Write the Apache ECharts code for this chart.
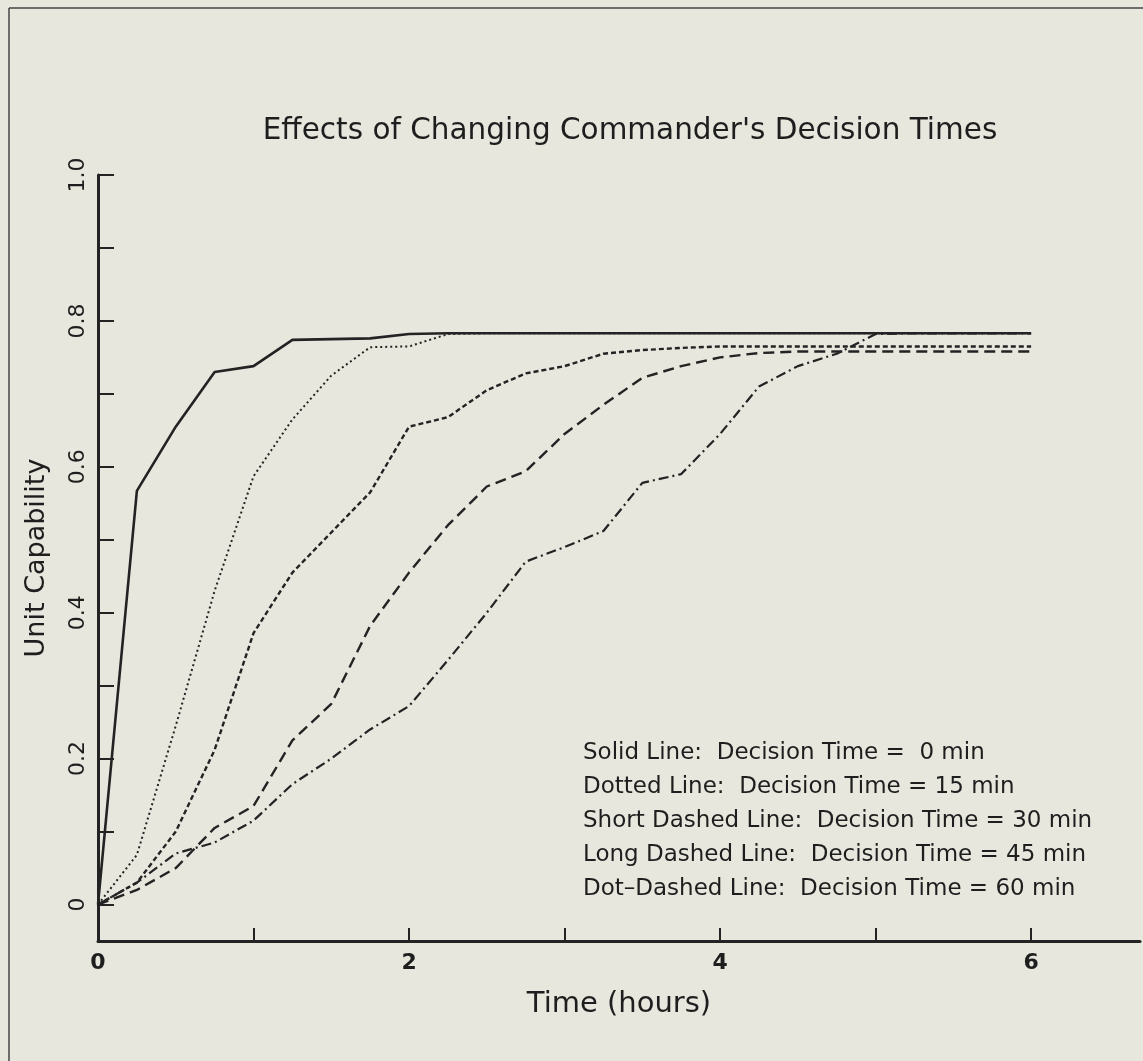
<!DOCTYPE html>
<html>
<head>
<meta charset="utf-8">
<script src="https://cdn.jsdelivr.net/npm/echarts@6/dist/echarts.min.js"></script>
<style>
html,body{margin:0;padding:0;background:#e7e7de;}
#chart{width:1143px;height:1061px;}
</style>
</head>
<body>
<div id="chart"></div>
<script>
// ---- data ----
const hours = [0, 0.25, 0.5, 0.75, 1, 1.25, 1.5, 1.75, 2, 2.25, 2.5, 2.75, 3, 3.25, 3.5, 3.75, 4, 4.25, 4.5, 4.75, 5, 5.25, 5.5, 5.75, 6];
const seriesNames = [
  'Solid Line:  Decision Time =  0 min',
  'Dotted Line:  Decision Time = 15 min',
  'Short Dashed Line:  Decision Time = 30 min',
  'Long Dashed Line:  Decision Time = 45 min',
  'Dot\u2013Dashed Line:  Decision Time = 60 min'
];
const decision0 = [0, 0.567, 0.655, 0.730, 0.738, 0.774, 0.775, 0.776, 0.782, 0.783, 0.783, 0.783, 0.783, 0.783, 0.783, 0.783, 0.783, 0.783, 0.783, 0.783, 0.783, 0.783, 0.783, 0.783, 0.783];
const decision15 = [0, 0.068, 0.245, 0.430, 0.587, 0.665, 0.725, 0.764, 0.765, 0.782, 0.783, 0.783, 0.783, 0.783, 0.783, 0.783, 0.783, 0.783, 0.783, 0.783, 0.783, 0.783, 0.783, 0.783, 0.783];
const decision30 = [0, 0.030, 0.100, 0.212, 0.372, 0.455, 0.510, 0.565, 0.655, 0.668, 0.705, 0.728, 0.738, 0.755, 0.760, 0.763, 0.765, 0.765, 0.765, 0.765, 0.765, 0.765, 0.765, 0.765, 0.765];
const decision45 = [0, 0.020, 0.050, 0.105, 0.135, 0.225, 0.275, 0.382, 0.455, 0.520, 0.573, 0.594, 0.645, 0.685, 0.722, 0.738, 0.750, 0.756, 0.758, 0.758, 0.758, 0.758, 0.758, 0.758, 0.758];
const decision60 = [0, 0.030, 0.070, 0.085, 0.115, 0.165, 0.200, 0.240, 0.272, 0.335, 0.400, 0.470, 0.490, 0.512, 0.578, 0.590, 0.645, 0.710, 0.738, 0.755, 0.782, 0.783, 0.783, 0.783, 0.783];
const xTickValues = [1, 2, 3, 4, 5, 6];
const xLabelValues = [0, 2, 4, 6];
const yTickValues = [0, 0.1, 0.2, 0.3, 0.4, 0.5, 0.6, 0.7, 0.8, 0.9, 1.0];
const yLabelValues = [0, 0.2, 0.4, 0.6, 0.8, 1.0];

const allValues = [decision0, decision15, decision30, decision45, decision60];
const dashes = ['solid', [2, 3], [5, 3], [11, 6], [10, 4, 2, 4]];
const widths = [2.6, 2, 2.4, 2.4, 2.2];
const ink = '#232323';
const FONT = 'DejaVu Sans';

const chart = echarts.init(document.getElementById('chart'), null, {renderer: 'canvas'});
const series = allValues.map((vals, i) => ({
  name: seriesNames[i],
  type: 'line',
  data: hours.map((h, j) => [h, vals[j]]),
  showSymbol: false,
  symbol: 'none',
  silent: true,
  lineStyle: {color: ink, width: widths[i], type: dashes[i]},
  itemStyle: {color: ink},
  z: 5 - i
}));

chart.setOption({
  backgroundColor: '#e7e7de',
  animation: false,
  title: {
    text: "Effects of Changing Commander's Decision Times",
    left: 625,
    top: 111,
    textAlign: 'center',
    textStyle: {fontFamily: FONT, fontSize: 29.5, fontWeight: 'normal', color: '#1e1e1e'}
  },
  legend: {
    orient: 'vertical',
    left: 572,
    top: 737,
    icon: 'none',
    itemWidth: 1,
    itemHeight: 14,
    itemGap: 11,
    selectedMode: false,
    lineStyle: {opacity: 0},
    textStyle: {fontFamily: FONT, fontSize: 23, color: '#1e1e1e'},
    data: seriesNames
  },
  grid: {left: 98, right: 3, top: 175, bottom: 120, containLabel: false},
  xAxis: {
    type: 'value',
    min: 0,
    max: 6.7,
    name: 'Time (hours)',
    nameLocation: 'middle',
    nameGap: 49,
    nameTextStyle: {fontFamily: FONT, fontSize: 29, color: '#1e1e1e'},
    axisLine: {show: true, onZero: false, lineStyle: {color: ink, width: 3}},
    axisTick: {show: true, inside: true, length: 13, customValues: xTickValues, lineStyle: {color: ink, width: 2}},
    axisLabel: {
      customValues: xLabelValues,
      margin: 11,
      fontFamily: FONT, fontSize: 22, fontWeight: 'bold', color: '#1e1e1e',
      formatter: v => String(v)
    },
    splitLine: {show: false}
  },
  yAxis: {
    type: 'value',
    min: -0.05,
    max: 1.0,
    name: 'Unit Capability',
    nameLocation: 'middle',
    nameRotate: 90,
    nameGap: 48,
    nameTextStyle: {fontFamily: FONT, fontSize: 27, color: '#1e1e1e'},
    axisLine: {show: true, onZero: false, lineStyle: {color: ink, width: 3}},
    axisTick: {show: true, inside: true, length: 16, customValues: yTickValues, lineStyle: {color: ink, width: 2}},
    axisLabel: {
      customValues: yLabelValues,
      rotate: 90,
      margin: 9,
      fontFamily: FONT, fontSize: 22, color: '#1e1e1e',
      formatter: v => (v === 0 ? '0' : v.toFixed(1))
    },
    splitLine: {show: false}
  },
  graphic: [
    {type: 'line', shape: {x1: 9, y1: 8, x2: 9, y2: 1061}, style: {stroke: '#444', lineWidth: 1.5}, silent: true},
    {type: 'line', shape: {x1: 9, y1: 8, x2: 1143, y2: 8}, style: {stroke: '#444', lineWidth: 1.5}, silent: true}
  ],
  series: series
});
</script>
</body>
</html>
